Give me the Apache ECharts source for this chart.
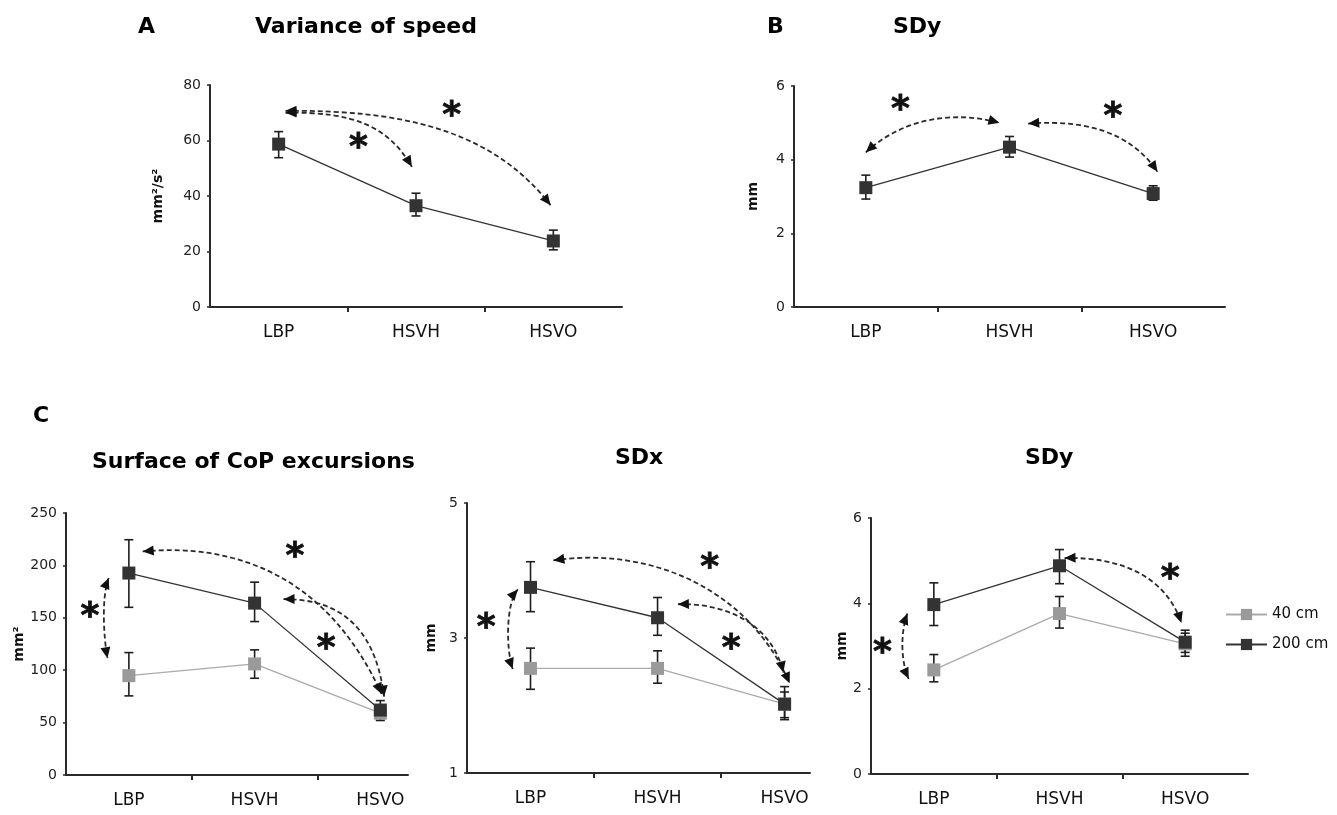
<!DOCTYPE html>
<html>
<head>
<meta charset="utf-8">
<script src="https://cdn.jsdelivr.net/npm/echarts@6/dist/echarts.min.js"></script>
<style>html,body{margin:0;padding:0;background:#fff;}#c{width:1337px;height:815px;}</style>
</head>
<body>
<div id="c"></div>
<script>
// ---------- data ----------
const categories = ['LBP', 'HSVH', 'HSVO'];

// Panel A: variance of speed (mm²/s²)
const aMean = [58.7, 36.5, 23.8];
const aLow  = [53.8, 32.8, 20.6];
const aHigh = [63.2, 41.0, 27.7];
const aTicks = [0, 20, 40, 60, 80];

// Panel B: SDy (mm)
const bMean = [3.24, 4.34, 3.08];
const bLow  = [2.93, 4.07, 2.90];
const bHigh = [3.58, 4.63, 3.29];
const bTicks = [0, 2, 4, 6];

// Panel C1: surface of CoP excursions (mm²)
const c1Mean40  = [94.8, 106, 59];
const c1Low40   = [75.5, 92.3, 54];
const c1High40  = [116.8, 119.4, 64];
const c1Mean200 = [192.7, 164, 62];
const c1Low200  = [160, 146.4, 52];
const c1High200 = [224.5, 184, 71];
const c1Ticks = [0, 50, 100, 150, 200, 250];

// Panel C2: SDx (mm)
const c2Mean40  = [2.55, 2.55, 2.02];
const c2Low40   = [2.24, 2.33, 1.82];
const c2High40  = [2.85, 2.81, 2.20];
const c2Mean200 = [3.75, 3.30, 2.02];
const c2Low200  = [3.39, 3.04, 1.79];
const c2High200 = [4.13, 3.60, 2.28];
const c2Ticks = [1, 3, 5];

// Panel C3: SDy (mm)
const c3Mean40  = [2.44, 3.76, 3.05];
const c3Low40   = [2.16, 3.42, 2.85];
const c3High40  = [2.80, 4.16, 3.30];
const c3Mean200 = [3.97, 4.88, 3.09];
const c3Low200  = [3.48, 4.46, 2.76];
const c3High200 = [4.48, 5.26, 3.37];
const c3Ticks = [0, 2, 4, 6];

// significance annotations: cubic curves [x0,y0, cx1,cy1, cx2,cy2, x3,y3] in data units
const aArrows = [
  [0.05, 70, 0.55, 70.5, 0.80, 65, 0.97, 50.5],
  [0.05, 70.7, 0.90, 71, 1.55, 64, 1.98, 36.7]
];
const aStars = [[1.26, 71.4], [0.58, 59.8]];
const bArrows = [
  [0.00, 4.20, 0.25, 5.10, 0.60, 5.35, 0.93, 5.00],
  [1.13, 4.98, 1.40, 5.05, 1.80, 5.00, 2.03, 3.67]
];
const bStars = [[0.24, 5.56], [1.72, 5.37]];
const c1Arrows = [
  [-0.16, 188, -0.22, 170, -0.20, 130, -0.17, 111.5],
  [0.11, 213.3, 0.90, 222, 1.60, 185, 2.01, 77.4],
  [1.23, 167.8, 1.60, 168, 1.95, 150, 2.03, 74.8]
];
const c1Stars = [[1.32, 215], [-0.31, 158], [1.57, 127.3]];
const c2Arrows = [
  [-0.10, 3.72, -0.20, 3.50, -0.19, 2.80, -0.14, 2.54],
  [0.18, 4.15, 0.90, 4.35, 1.70, 3.80, 2.04, 2.33],
  [1.16, 3.50, 1.55, 3.52, 1.90, 3.20, 1.99, 2.49]
];
const c2Stars = [[1.41, 4.15], [-0.35, 3.26], [1.58, 2.95]];
const c3Arrows = [
  [-0.21, 3.76, -0.27, 3.30, -0.26, 2.60, -0.20, 2.23],
  [1.04, 5.06, 1.50, 5.10, 1.85, 4.60, 1.97, 3.54]
];
const c3Stars = [[-0.41, 3.0], [1.88, 4.75]];

// ---------- styling / helpers ----------
const FONT = '"DejaVu Sans", "Liberation Sans", Arial, sans-serif';
const DARK = '#333333';
const GRAY = '#9a9a9a';

function xAxisOf(g, max) {
  return {
    type: 'value', gridIndex: g, min: -0.5, max: max,
    splitLine: {show: false},
    axisLine: {show: true, onZero: false, lineStyle: {color: '#2a2a2a', width: 2}},
    axisTick: {show: true, customValues: [0.5, 1.5], length: 5, lineStyle: {color: '#2a2a2a', width: 2}},
    axisLabel: {customValues: [0, 1, 2], formatter: v => categories[Math.round(v)] || '',
      margin: 17, fontSize: 17, fontFamily: FONT, color: '#111'}
  };
}
function yAxisOf(g, ticks, name, gap) {
  return {
    type: 'value', gridIndex: g, min: ticks[0], max: ticks[ticks.length - 1],
    splitLine: {show: false},
    axisLine: {show: true, onZero: false, lineStyle: {color: '#2a2a2a', width: 2}},
    axisTick: {show: true, customValues: ticks, length: 3, lineStyle: {color: '#2a2a2a', width: 1.5}},
    axisLabel: {customValues: ticks, margin: 9, fontSize: 14, fontFamily: FONT, color: '#222'},
    name: name, nameLocation: 'middle', nameGap: gap,
    nameTextStyle: {fontSize: 14, fontWeight: 'bold', fontFamily: FONT, color: '#111'}
  };
}
function lineSeries(g, name, mean, color, lineColor) {
  return {
    type: 'line', name: name, xAxisIndex: g, yAxisIndex: g, z: 5,
    data: mean.map((v, i) => [i, v]),
    symbol: 'rect', symbolSize: 13,
    itemStyle: {color: color},
    lineStyle: {color: lineColor, width: 1.3},
    animation: false
  };
}
function errorSeries(g, low, high) {
  return {
    type: 'custom', xAxisIndex: g, yAxisIndex: g, z: 3, silent: true,
    data: low.map((l, i) => [i, l, high[i]]),
    encode: {x: 0, y: [1, 2]},
    renderItem: (params, api) => {
      const x = api.value(0);
      const p1 = api.coord([x, api.value(1)]);
      const p2 = api.coord([x, api.value(2)]);
      const w = 4.5, st = {stroke: '#1e1e1e', lineWidth: 1.6};
      return {type: 'group', children: [
        {type: 'line', shape: {x1: p1[0], y1: p1[1], x2: p2[0], y2: p2[1]}, style: st},
        {type: 'line', shape: {x1: p1[0] - w, y1: p1[1], x2: p1[0] + w, y2: p1[1]}, style: st},
        {type: 'line', shape: {x1: p2[0] - w, y1: p2[1], x2: p2[0] + w, y2: p2[1]}, style: st}
      ]};
    },
    animation: false
  };
}
function head(tip, from) {
  let dx = tip[0] - from[0], dy = tip[1] - from[1];
  const L = Math.hypot(dx, dy) || 1; dx /= L; dy /= L;
  const len = 11, hw = 5;
  const bx = tip[0] - dx * len, by = tip[1] - dy * len;
  return {type: 'polygon', shape: {points: [[tip[0], tip[1]], [bx - dy * hw, by + dx * hw], [bx + dy * hw, by - dx * hw]]},
    style: {fill: '#111'}};
}
function arrowSeries(g, arrows) {
  return {
    type: 'custom', xAxisIndex: g, yAxisIndex: g, z: 6, silent: true, clip: false,
    data: arrows, encode: {x: [0, 2, 4, 6], y: [1, 3, 5, 7]},
    renderItem: (params, api) => {
      const P = [0, 1, 2, 3].map(k => api.coord([api.value(2 * k), api.value(2 * k + 1)]));
      return {type: 'group', children: [
        {type: 'bezierCurve', shape: {x1: P[0][0], y1: P[0][1], cpx1: P[1][0], cpy1: P[1][1],
          cpx2: P[2][0], cpy2: P[2][1], x2: P[3][0], y2: P[3][1]},
          style: {stroke: '#2a2a2a', lineWidth: 1.8, lineDash: [5, 3], fill: null}},
        head(P[0], P[1]), head(P[3], P[2])
      ]};
    },
    animation: false
  };
}
function starSeries(g, stars) {
  return {
    type: 'custom', xAxisIndex: g, yAxisIndex: g, z: 6, silent: true, clip: false,
    data: stars, encode: {x: 0, y: 1},
    renderItem: (params, api) => {
      const c = api.coord([api.value(0), api.value(1)]);
      return {type: 'text', x: c[0], y: c[1] + 8,
        style: {text: '*', fontSize: 36, fontWeight: 'bold', fontFamily: FONT, align: 'center', verticalAlign: 'middle',
          fill: '#111', stroke: '#111', lineWidth: 0.8}};
    },
    animation: false
  };
}
function title(text, x, y) {
  return {type: 'text', x: x, y: y, style: {text: text, fontSize: 22, fontWeight: 'bold', fontFamily: FONT,
    fill: '#000', verticalAlign: 'middle', align: 'left'}};
}

const option = {
  backgroundColor: '#fff',
  animation: false,
  graphic: [
    title('A', 138, 27), title('Variance of speed', 255, 27),
    title('B', 767, 27), title('SDy', 893, 27),
    title('C', 33, 416), title('Surface of CoP excursions', 92, 462),
    title('SDx', 615, 458), title('SDy', 1025, 458)
  ],
  legend: {
    data: ['40 cm', '200 cm'], orient: 'vertical', left: 1225, top: 607, padding: 0,
    itemWidth: 41, itemHeight: 14, itemGap: 15,
    textStyle: {fontSize: 15, fontFamily: FONT, color: '#111'}
  },
  grid: [
    {left: 210, top: 85, width: 412, height: 222},
    {left: 794, top: 86, width: 431, height: 221},
    {left: 66, top: 513, width: 342, height: 262},
    {left: 467, top: 503, width: 343, height: 270},
    {left: 871, top: 518, width: 377, height: 256}
  ],
  xAxis: [xAxisOf(0, 2.5), xAxisOf(1, 2.5), xAxisOf(2, 2.22), xAxisOf(3, 2.2), xAxisOf(4, 2.5)],
  yAxis: [
    yAxisOf(0, aTicks, 'mm²/s²', 45),
    yAxisOf(1, bTicks, 'mm', 34),
    yAxisOf(2, c1Ticks, 'mm²', 32),
    yAxisOf(3, c2Ticks, 'mm', 29),
    yAxisOf(4, c3Ticks, 'mm', 22)
  ],
  series: [
    errorSeries(0, aLow, aHigh), lineSeries(0, 'Variance of speed', aMean, DARK, DARK),
    arrowSeries(0, aArrows), starSeries(0, aStars),

    errorSeries(1, bLow, bHigh), lineSeries(1, 'SDy', bMean, DARK, DARK),
    arrowSeries(1, bArrows), starSeries(1, bStars),

    errorSeries(2, c1Low40, c1High40), lineSeries(2, '40 cm', c1Mean40, GRAY, '#aaaaaa'),
    errorSeries(2, c1Low200, c1High200), lineSeries(2, '200 cm', c1Mean200, DARK, DARK),
    arrowSeries(2, c1Arrows), starSeries(2, c1Stars),

    errorSeries(3, c2Low40, c2High40), lineSeries(3, '40 cm', c2Mean40, GRAY, '#aaaaaa'),
    errorSeries(3, c2Low200, c2High200), lineSeries(3, '200 cm', c2Mean200, DARK, DARK),
    arrowSeries(3, c2Arrows), starSeries(3, c2Stars),

    errorSeries(4, c3Low40, c3High40), lineSeries(4, '40 cm', c3Mean40, GRAY, '#aaaaaa'),
    errorSeries(4, c3Low200, c3High200), lineSeries(4, '200 cm', c3Mean200, DARK, DARK),
    arrowSeries(4, c3Arrows), starSeries(4, c3Stars)
  ]
};

const chart = echarts.init(document.getElementById('c'), null, {renderer: 'canvas'});
chart.setOption(option);
</script>
</body>
</html>
